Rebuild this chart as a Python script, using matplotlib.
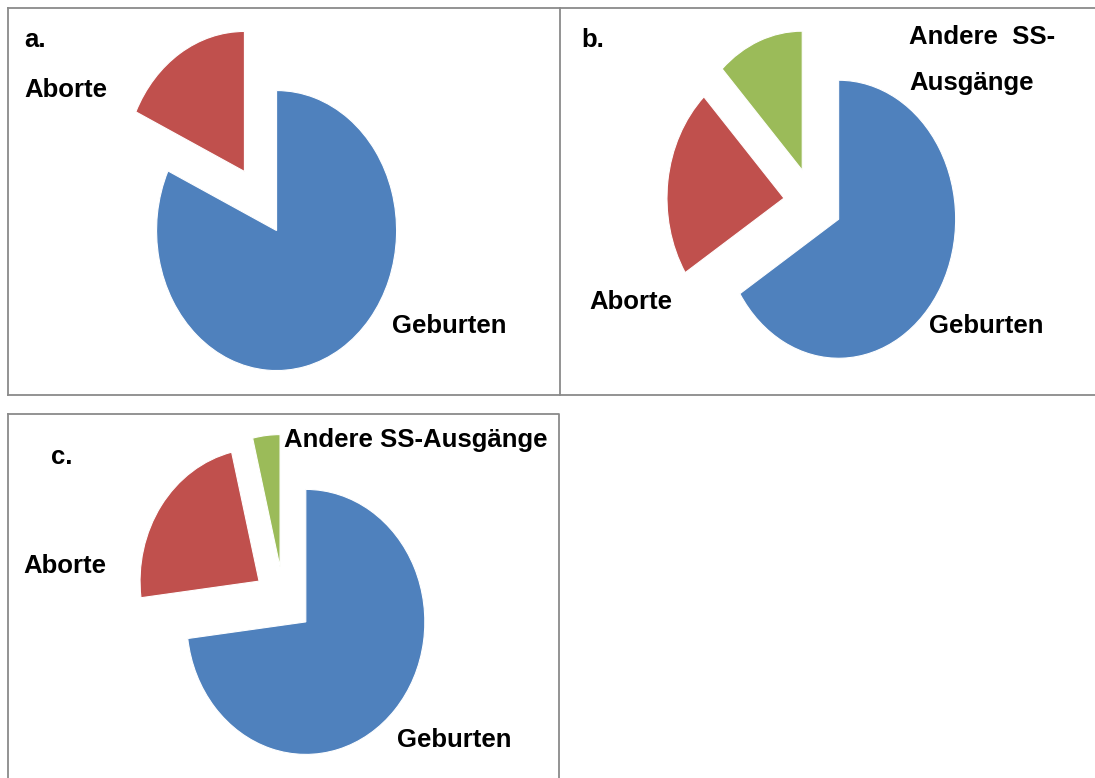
#!/usr/bin/env python
"""Three exploded pie charts (a, b, c): Geburten / Aborte / Andere SS-Ausgaenge."""
import matplotlib
matplotlib.use("Agg")
import matplotlib.pyplot as plt

W, H = 1095, 778
plt.rcParams.update({"font.family": ["Liberation Sans", "DejaVu Sans"]})

CATEGORIES = ["Geburten", "Aborte", "Andere SS-Ausgänge"]
COLORS = ["#4F81BD", "#C0504D", "#9BBB59"]
SHARE_A = [82, 18]
SHARE_B = [66, 22, 12]
SHARE_C = [73, 23.3, 3.7]
EXPLODE = 0.25

FS = 18.5
FRAME = "#8a8a8a"


def pie_axes(fig, cx, cy, rx, ry, L=2.0):
    # axes so that data (0,0) sits at pixel (cx, cy), one unit = rx / ry px
    ax = fig.add_axes([(cx - L * rx) / W, 1 - (cy + L * ry) / H,
                       2 * L * rx / W, 2 * L * ry / H])
    return ax, L


def draw_pie(fig, values, cx, cy, rx, ry):
    ax, L = pie_axes(fig, cx, cy, rx, ry)
    ax.pie(values, colors=COLORS[:len(values)], explode=[EXPLODE] * len(values),
           startangle=90, counterclock=False,
           wedgeprops=dict(edgecolor="white", linewidth=0.8))
    ax.set_aspect("auto")
    ax.set_xlim(-L, L); ax.set_ylim(-L, L)
    ax.axis("off")


def main():
    fig = plt.figure(figsize=(W / 100, H / 100), dpi=100)
    bg = fig.add_axes([0, 0, 1, 1])
    bg.set_xlim(0, W); bg.set_ylim(H, 0); bg.axis("off")

    # panel frames
    lw = 1.3
    bg.plot([8, 1100], [8, 8], color=FRAME, lw=lw)
    bg.plot([8, 1100], [395, 395], color=FRAME, lw=lw)
    bg.plot([8, 8], [8, 395], color=FRAME, lw=lw)
    bg.plot([560, 560], [8, 395], color=FRAME, lw=lw)
    bg.plot([8, 559, 559], [414, 414, 790], color=FRAME, lw=lw)
    bg.plot([8, 8], [414, 790], color=FRAME, lw=lw)

    draw_pie(fig, SHARE_A, 260.5, 201, 120, 140)
    draw_pie(fig, SHARE_B, 813, 202.5, 117, 139)
    draw_pie(fig, SHARE_C, 283.5, 600, 119, 132.5)

    tk = dict(fontsize=FS, fontweight="bold", ha="left", va="center")
    # panel a
    bg.text(24, 40, "a.", **tk)
    bg.text(24, 90, CATEGORIES[1], **tk)
    bg.text(392, 326, CATEGORIES[0], **tk)
    # panel b
    bg.text(581, 40, "b.", **tk)
    bg.text(589, 302, CATEGORIES[1], **tk)
    bg.text(929, 326, CATEGORIES[0], **tk)
    bg.text(909, 37, "Andere  SS-", **tk)
    bg.text(909, 83, "Ausgänge", **tk)
    # panel c
    bg.text(51, 457, "c.", **tk)
    bg.text(23, 566, CATEGORIES[1], **tk)
    bg.text(397, 740, CATEGORIES[0], **tk)
    bg.text(284, 440, CATEGORIES[2], **tk)

    fig.savefig("out.png", dpi=100)
    plt.close(fig)


if __name__ == "__main__":
    main()
